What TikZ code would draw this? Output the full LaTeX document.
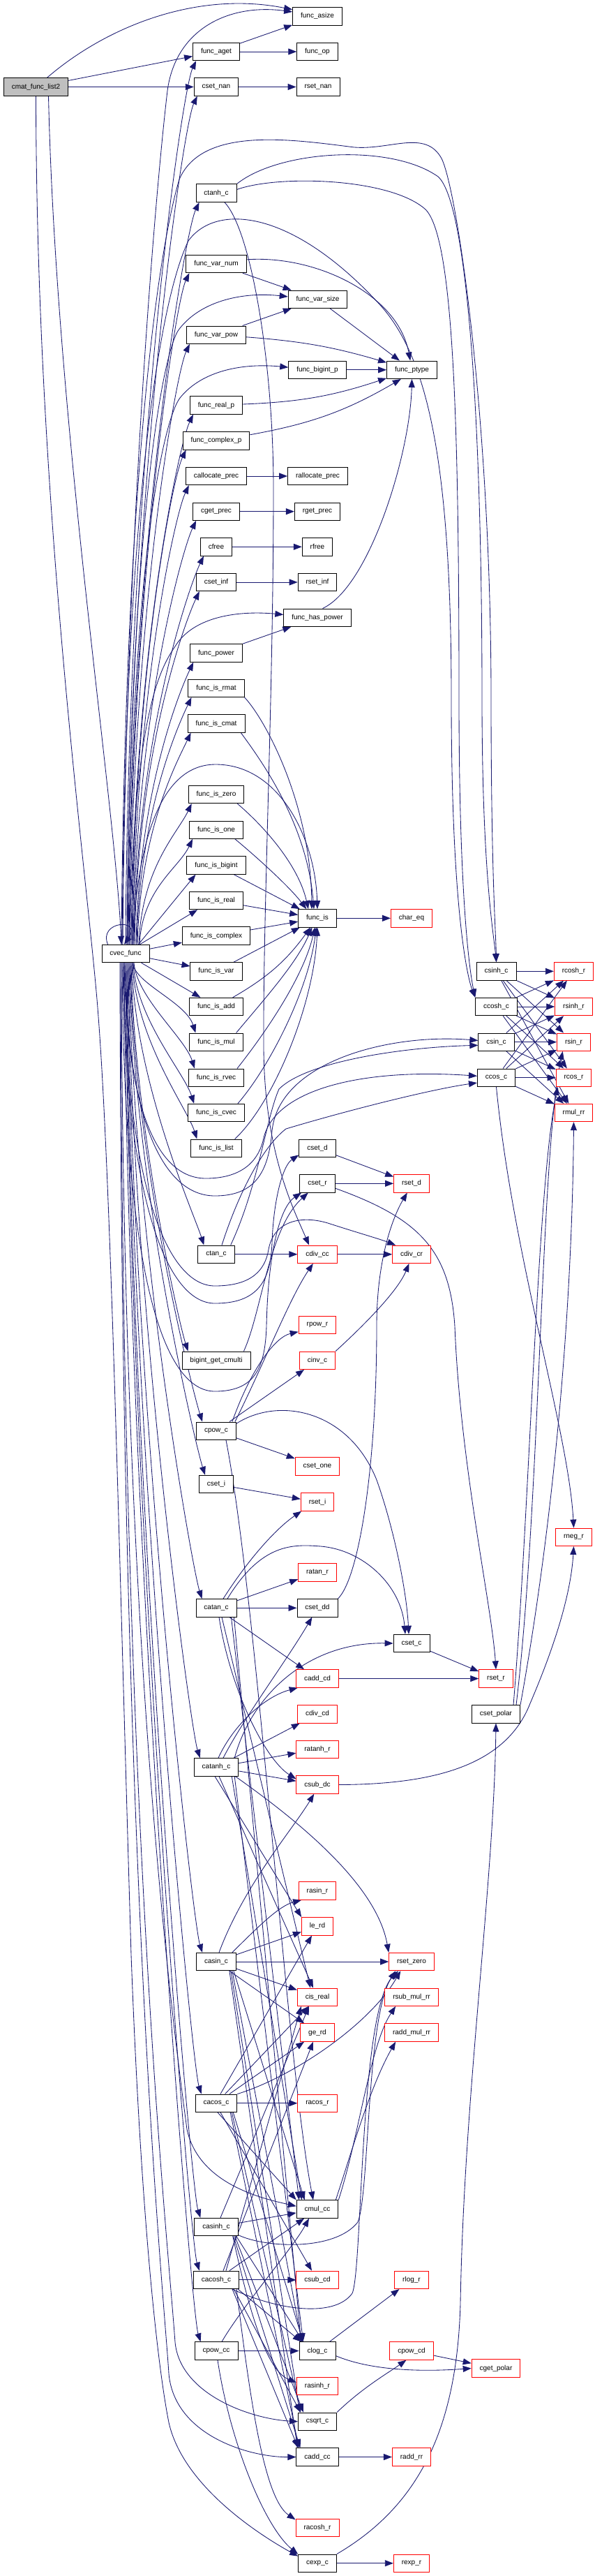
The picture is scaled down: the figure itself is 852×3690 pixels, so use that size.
\documentclass[tikz,border=0pt]{standalone}
\usepackage{fontspec}
\usetikzlibrary{arrows.meta,calc}
\newfontfamily\nf{Liberation Sans}
\definecolor{edgeblue}{HTML}{191970}
\definecolor{rootgrey}{HTML}{BFBFBF}
\definecolor{nodered}{HTML}{FF0000}
\pgfdeclarelayer{edgelayer}
\pgfsetlayers{edgelayer,main}
\tikzset{
  box/.style={draw=black, line width=0.9pt, fill=white, font=\nf\fontsize{10}{12}\selectfont, minimum height=25.5pt, inner xsep=11.5pt, inner ysep=0pt},
  rbox/.style={box, draw=nodered},
  rootbox/.style={box, fill=rootgrey},
  e/.style={draw=edgeblue, line width=0.85pt, -{Triangle[length=12pt,width=9pt]}},
}
\newcommand\upE[3]{\draw[e] ([xshift=#2pt]cvec.north) .. controls +(4,#3) and +(-20,-42) .. ([xshift=5pt]#1.south west);}
\newcommand\dnE[3]{\draw[e] ([xshift=#2pt]cvec.south) .. controls +(4,-#3) and +(-14,44) .. ([xshift=9pt]#1.north west);}
\begin{document}
\begin{tikzpicture}[x=1pt,y=1pt]
\useasboundingbox (0,0) rectangle (852,-3690);
% nodes
\node[rootbox] (cmat) at (51.5,-124.5) {cmat\_func\_list2};
\node[box] (fasize) at (455,-23.3) {func\_asize};
\node[box] (faget) at (310,-74) {func\_aget};
\node[box] (fop) at (455,-74) {func\_op};
\node[box] (csetnan) at (310,-124.5) {cset\_nan};
\node[box] (rsetnan) at (456,-124.5) {rset\_nan};
\node[box] (ctanh) at (310,-276.7) {ctanh\_c};
\node[box] (fvarnum) at (310,-378) {func\_var\_num};
\node[box] (fvarsize) at (455.5,-428.7) {func\_var\_size};
\node[box] (fvarpow) at (310,-479.7) {func\_var\_pow};
\node[box] (fbigintp) at (455,-529.8) {func\_bigint\_p};
\node[box] (fptype) at (590.5,-529.8) {func\_ptype};
\node[box] (frealp) at (310,-580.5) {func\_real\_p};
\node[box] (fcomplexp) at (310,-631.3) {func\_complex\_p};
\node[box] (calloc) at (310,-682) {callocate\_prec};
\node[box] (ralloc) at (455.5,-682) {rallocate\_prec};
\node[box] (cgetprec) at (310,-732.7) {cget\_prec};
\node[box] (rgetprec) at (455,-732.7) {rget\_prec};
\node[box] (cfree) at (310,-783.3) {cfree};
\node[box] (rfree) at (455,-783.3) {rfree};
\node[box] (csetinf) at (310,-834) {cset\_inf};
\node[box] (rsetinf) at (455,-834) {rset\_inf};
\node[box] (fhaspow) at (455,-884.7) {func\_has\_power};
\node[box] (fpower) at (310,-935.5) {func\_power};
\node[box] (fisrmat) at (310,-985.8) {func\_is\_rmat};
\node[box] (fiscmat) at (310,-1036.5) {func\_is\_cmat};
\node[box] (fiszero) at (310,-1138) {func\_is\_zero};
\node[box] (fisone) at (310,-1188.7) {func\_is\_one};
\node[box] (fisbigint) at (310,-1239.5) {func\_is\_bigint};
\node[box] (fisreal) at (310,-1290) {func\_is\_real};
\node[box] (fis) at (455,-1315.3) {func\_is};
\node[rbox] (chareq) at (590,-1315.3) {char\_eq};
\node[box] (fiscomplex) at (310,-1340.5) {func\_is\_complex};
\node[box] (cvec) at (180,-1366) {cvec\_func};
\node[box] (fisvar) at (310,-1391.3) {func\_is\_var};
\node[box] (csinh) at (711.5,-1391.3) {csinh\_c};
\node[rbox] (rcosh) at (822.5,-1391.3) {rcosh\_r};
\node[box] (fisadd) at (310,-1442) {func\_is\_add};
\node[box] (ccosh) at (711.5,-1442) {ccosh\_c};
\node[rbox] (rsinh) at (822.5,-1442) {rsinh\_r};
\node[box] (fismul) at (310,-1492.7) {func\_is\_mul};
\node[box] (csin) at (711.5,-1492.7) {csin\_c};
\node[rbox] (rsin) at (822.5,-1492.7) {rsin\_r};
\node[box] (fisrvec) at (310,-1543.7) {func\_is\_rvec};
\node[box] (ccos) at (711.5,-1543.7) {ccos\_c};
\node[rbox] (rcos) at (822.5,-1543.7) {rcos\_r};
\node[box] (fiscvec) at (310,-1594) {func\_is\_cvec};
\node[rbox] (rmul) at (822.5,-1594) {rmul\_rr};
\node[box] (fislist) at (310,-1644.7) {func\_is\_list};
\node[box] (csetd) at (455,-1644.7) {cset\_d};
\node[box] (csetr) at (455,-1695.3) {cset\_r};
\node[rbox] (rsetd) at (590,-1695.3) {rset\_d};
\node[box] (ctan) at (310,-1796.7) {ctan\_c};
\node[rbox] (cdivcc) at (455,-1796.7) {cdiv\_cc};
\node[rbox] (cdivcr) at (590,-1796.7) {cdiv\_cr};
\node[rbox] (rpow) at (455,-1897.8) {rpow\_r};
\node[box] (bigint) at (310,-1948.7) {bigint\_get\_cmulti};
\node[rbox] (cinv) at (455,-1948.7) {cinv\_c};
\node[box] (cpow) at (310,-2049.7) {cpow\_c};
\node[rbox] (csetone) at (455,-2100.5) {cset\_one};
\node[box] (cseti) at (310,-2126) {cset\_i};
\node[rbox] (rseti) at (455,-2151.5) {rset\_i};
\node[rbox] (rneg) at (822.5,-2201.8) {rneg\_r};
\node[rbox] (ratan) at (455,-2252.5) {ratan\_r};
\node[box] (catan) at (310,-2303.3) {catan\_c};
\node[box] (csetdd) at (455,-2303.3) {cset\_dd};
\node[box] (csetc) at (590,-2354) {cset\_c};
\node[rbox] (caddcd) at (455,-2404.5) {cadd\_cd};
\node[rbox] (rsetr) at (711,-2404.5) {rset\_r};
\node[box] (csetpolar) at (711,-2455.3) {cset\_polar};
\node[rbox] (cdivcd) at (455,-2455.3) {cdiv\_cd};
\node[rbox] (ratanh) at (455,-2505.8) {ratanh\_r};
\node[box] (catanh) at (310,-2531.3) {catanh\_c};
\node[rbox] (csubdc) at (455,-2556.5) {csub\_dc};
\node[rbox] (rasin) at (455,-2708.5) {rasin\_r};
\node[rbox] (lerd) at (455,-2759.3) {le\_rd};
\node[box] (casin) at (310,-2810) {casin\_c};
\node[rbox] (rsetzero) at (590,-2810) {rset\_zero};
\node[rbox] (cisreal) at (455,-2860.7) {cis\_real};
\node[rbox] (rsubmul) at (590,-2860.7) {rsub\_mul\_rr};
\node[rbox] (gerd) at (455,-2911.5) {ge\_rd};
\node[rbox] (raddmul) at (590,-2911.5) {radd\_mul\_rr};
\node[box] (cacos) at (310,-3012.7) {cacos\_c};
\node[rbox] (racos) at (455,-3012.7) {racos\_r};
\node[box] (cmulcc) at (455,-3164.5) {cmul\_cc};
\node[box] (casinh) at (310,-3190) {casinh\_c};
\node[box] (cacosh) at (310,-3265.8) {cacosh\_c};
\node[rbox] (csubcd) at (455,-3265.8) {csub\_cd};
\node[rbox] (rlog) at (590,-3265.8) {rlog\_r};
\node[box] (cpowcc) at (310,-3367.5) {cpow\_cc};
\node[box] (clog) at (455,-3367.5) {clog\_c};
\node[rbox] (cpowcd) at (590,-3367.5) {cpow\_cd};
\node[rbox] (cgetpolar) at (711,-3392.5) {cget\_polar};
\node[rbox] (rasinh) at (455,-3418) {rasinh\_r};
\node[box] (csqrt) at (455,-3468.7) {csqrt\_c};
\node[box] (caddcc) at (455,-3519.5) {cadd\_cc};
\node[rbox] (raddrr) at (590,-3519.5) {radd\_rr};
\node[rbox] (racosh) at (455,-3620.7) {racosh\_r};
\node[box] (cexp) at (455,-3671.7) {cexp\_c};
\node[rbox] (rexp) at (590,-3671.7) {rexp\_r};

\begin{pgfonlayer}{edgelayer}
\fill[white] (0,0) rectangle (852,-3690);
% ---- cmat
\draw[e] ([xshift=16pt]cmat.north) .. controls (150,-40) and (280,14) .. (fasize.165);
\draw[e] (cmat) -- (faget);
\draw[e] (cmat) -- (csetnan);
\draw[e] ([xshift=18pt]cmat.south) .. controls (80,-600) and (165,-1150) .. ([xshift=-6pt]cvec.north);
\draw[e] (cmat.south) .. controls (52,-700) and (118,-1200) .. (138,-1420) .. controls (158,-1640) and (170,-2200) .. (188,-2800) .. controls (203,-3200) and (228,-3400) .. (242,-3470) .. controls (262,-3560) and (370,-3630) .. (cexp.160);
% ---- top
\draw[e] (faget) -- (fasize);
\draw[e] (faget) -- (fop);
\draw[e] (csetnan) -- (rsetnan);
\draw[e] (fvarnum) -- (fvarsize);
\draw[e] (fvarnum.8) .. controls (450,-365) and (570,-420) .. (fptype.100);
\draw[e] (fvarsize) -- (fptype);
\draw[e] (fvarpow) -- (fvarsize);
\draw[e] (fvarpow) to[bend left=6] (fptype);
\draw[e] (fbigintp) -- (fptype);
\draw[e] (frealp) to[bend right=8] (fptype);
\draw[e] (fcomplexp.10) to[bend right=10] (fptype.-140);
\draw[e] (calloc) -- (ralloc);
\draw[e] (cgetprec) -- (rgetprec);
\draw[e] (cfree) -- (rfree);
\draw[e] (csetinf) -- (rsetinf);
\draw[e] (fhaspow.60) .. controls (530,-840) and (588,-650) .. (fptype.south);
\draw[e] (fpower) -- (fhaspow);
% ---- cvec upward
\draw[e] ([xshift=9pt]cvec.north west) .. controls +(-14,34) and +(26,38) .. ([xshift=-2pt]cvec.north);
\upE{faget}{0}{700}
\upE{csetnan}{2}{660}
\upE{ctanh}{4}{580}
\upE{fvarnum}{5}{520}
\upE{fvarpow}{6}{470}
\upE{frealp}{8}{420}
\upE{fcomplexp}{9}{390}
\upE{calloc}{10}{360}
\upE{cgetprec}{11}{330}
\upE{cfree}{12}{300}
\upE{csetinf}{13}{280}
\upE{fpower}{15}{220}
\upE{fisrmat}{16}{190}
\upE{fiscmat}{17}{165}
\upE{fiszero}{19}{110}
\upE{fisone}{20}{80}
\draw[e] ([xshift=-16pt]cvec.north east) -- ([xshift=13pt]fisbigint.south west);
\draw[e] ([xshift=-14pt]cvec.north east) -- ([xshift=12pt]fisreal.south west);
\draw[e] (cvec) -- (fiscomplex);
\draw[e] (cvec) -- (fisvar);
\draw[e] (cvec) -- (fisadd);
\dnE{fismul}{10}{30}
\dnE{fisrvec}{12}{50}
\dnE{fiscvec}{11}{80}
\dnE{fislist}{10}{110}
\dnE{ctan}{9}{170}
\dnE{bigint}{8}{230}
\dnE{cpow}{7}{280}
\dnE{cseti}{6}{310}
\dnE{catan}{5}{380}
\dnE{catanh}{4}{470}
\dnE{casin}{3}{580}
\dnE{cacos}{2}{650}
\dnE{casinh}{1}{720}
\dnE{cacosh}{0}{750}
\dnE{cpowcc}{-2}{790}
% cvec to far nodes
\draw[e] ([xshift=-4pt]cvec.north) .. controls (180,-800) and (220,-300) .. (240,-130) .. controls (252,-40) and (330,-5) .. (fasize.170);
\draw[e] ([xshift=2pt]cvec.north) .. controls (185,-800) and (230,-500) .. (258,-470) .. controls (290,-430) and (350,-418) .. (fvarsize.175);
\draw[e] ([xshift=3pt]cvec.north) .. controls (188,-800) and (235,-600) .. (258,-570) .. controls (290,-530) and (350,-520) .. (fbigintp.175);
\draw[e] ([xshift=6pt]cvec.north) .. controls (192,-1000) and (235,-950) .. (255,-920) .. controls (285,-880) and (350,-875) .. (fhaspow.175);
\draw[e] ([xshift=10pt]cvec.north) .. controls (195,-1250) and (215,-1095) .. (309,-1095) .. controls (400,-1095) and (452,-1200) .. (fis.north);
\draw[e] ([xshift=-6pt]cvec.north) .. controls (178,-800) and (215,-400) .. (257,-257) .. controls (290,-180) and (420,-200) .. (508,-211) .. controls (560,-215) and (610,-185) .. (633,-227) .. controls (655,-270) and (704,-600) .. (704,-1000) .. controls (704,-1250) and (711,-1340) .. (csinh.north);
\draw[e] ([xshift=-5pt]cvec.north) .. controls (179,-800) and (220,-450) .. (270,-345) .. controls (310,-290) and (420,-300) .. (546,-438) .. controls (610,-510) and (647,-650) .. (647,-1000) .. controls (647,-1300) and (670,-1400) .. (ccosh.north west);
\draw[e] ([xshift=-2pt]cvec.south) .. controls (182,-1600) and (230,-1688) .. (295,-1688) .. controls (350,-1688) and (372,-1660) .. (378,-1630) .. controls (395,-1560) and (520,-1530) .. (ccos.175);
\draw[e] ([xshift=-1pt]cvec.south) .. controls (183,-1620) and (240,-1713) .. (308,-1713) .. controls (365,-1713) and (385,-1680) .. (390,-1620) .. controls (400,-1520) and (560,-1480) .. (csin.175);
\draw[e] ([xshift=-3pt]cvec.south) .. controls (181,-1700) and (240,-1842) .. (308,-1842) .. controls (360,-1842) and (380,-1820) .. (385,-1790) .. controls (392,-1750) and (430,-1740) .. (470,-1752) .. controls (510,-1765) and (545,-1775) .. (cdivcr.150);
\draw[e] ([xshift=-4pt]cvec.south) .. controls (180,-1720) and (240,-1867) .. (308,-1867) .. controls (365,-1867) and (388,-1840) .. (390,-1780) .. controls (392,-1720) and (405,-1670) .. (csetd.-160);
\draw[e] ([xshift=-5pt]cvec.south) .. controls (178,-1850) and (240,-1993) .. (308,-1993) .. controls (365,-1993) and (380,-1960) .. (382,-1900) .. controls (384,-1800) and (400,-1730) .. (csetr.-150);
\draw[e] ([xshift=-6pt]cvec.south) .. controls (176,-2400) and (255,-2950) .. (268,-3050) .. controls (285,-3130) and (380,-3150) .. (cmulcc.172);
\draw[e] ([xshift=-7pt]cvec.south) .. controls (175,-2600) and (240,-3200) .. (251,-3355) .. controls (258,-3430) and (360,-3465) .. (csqrt.west);
\draw[e] ([xshift=-8pt]cvec.south) .. controls (174,-2700) and (236,-3300) .. (242,-3400) .. controls (250,-3490) and (360,-3520) .. (caddcc.west);
% ---- func_is group
\draw[e] (fisrmat.south east) .. controls (380,-1030) and (445,-1150) .. ([xshift=-8pt]fis.north);
\draw[e] ([xshift=-6pt]fiscmat.south east) .. controls (375,-1090) and (440,-1180) .. ([xshift=-5pt]fis.north);
\draw[e] ([xshift=-10pt]fiszero.south east) .. controls (380,-1185) and (428,-1240) .. ([xshift=-13pt]fis.north);
\draw[e] ([xshift=-12pt]fisone.south east) .. controls (365,-1225) and (415,-1270) .. (fis.140);
\draw[e] (fisbigint) -- (fis);
\draw[e] (fisreal) -- (fis);
\draw[e] (fiscomplex) -- (fis);
\draw[e] (fisvar) -- (fis);
\draw[e] (fisadd) to[bend right=12] (fis);
\draw[e] ([xshift=-10pt]fismul.north east) .. controls (380,-1430) and (425,-1380) .. (fis.-120);
\draw[e] ([xshift=-10pt]fisrvec.north east) .. controls (380,-1480) and (435,-1400) .. (fis.-105);
\draw[e] ([xshift=-10pt]fiscvec.north east) .. controls (385,-1530) and (442,-1420) .. (fis.-97);
\draw[e] ([xshift=-10pt]fislist.north east) .. controls (392,-1580) and (450,-1440) .. (fis.-90);
\draw[e] (fis) -- (chareq);
% ---- hyperbolic / trig
\draw[e] (ctanh.north east) .. controls (400,-215) and (560,-205) .. (628,-253) .. controls (670,-290) and (691,-600) .. (691,-1000) .. controls (691,-1250) and (708,-1340) .. (csinh.north);
\draw[e] (ctanh.10) .. controls (400,-250) and (560,-255) .. (610,-300) .. controls (650,-340) and (658,-600) .. (658,-1000) .. controls (658,-1300) and (675,-1400) .. (ccosh.north west);
\draw[e] ([xshift=12pt]ctanh.south) .. controls (360,-330) and (392,-520) .. (392,-700) .. controls (392,-1000) and (377,-1300) .. (378,-1500) .. controls (379,-1650) and (420,-1730) .. ([xshift=-12pt]cdivcc.north);
\draw[e] ([xshift=8pt]ctan.north) .. controls (345,-1700) and (380,-1640) .. (410,-1617) .. controls (500,-1590) and (620,-1560) .. (ccos.195);
\draw[e] ([xshift=-6pt]ctan.north east) .. controls (370,-1700) and (382,-1600) .. (400,-1560) .. controls (440,-1520) and (580,-1500) .. (csin.190);
\foreach \s in {csinh,ccosh,csin,ccos} {
  \foreach \t in {rcosh,rsinh,rsin,rcos,rmul} {
    \draw[e] (\s) -- (\t);
  }
}
\draw[e] (ccos.south) .. controls (735,-1800) and (815,-2050) .. (rneg.north);
\draw[e] ([xshift=-10pt]csetpolar.north east) .. controls (760,-2150) and (770,-1700) .. (rcos.-150);
\draw[e] ([xshift=-6pt]csetpolar.north east) .. controls (775,-2150) and (775,-1650) .. (rsin.-140);
\draw[e] (csetpolar.north east) .. controls (790,-2200) and (820,-1900) .. (rmul.south);
\draw[e] (csubdc.east) .. controls (620,-2556) and (725,-2530) .. (760,-2440) .. controls (790,-2370) and (818,-2290) .. (rneg.south);
\draw[e] (cexp.north east) .. controls (600,-3590) and (655,-3480) .. (660,-3300) .. controls (665,-3000) and (708,-2700) .. (csetpolar.south);
% ---- middle
\draw[e] (csetd) -- (rsetd);
\draw[e] (csetr) -- (rsetd);
\draw[e] (csetr.-15) .. controls (600,-1745) and (645,-1790) .. (652,-1900) .. controls (660,-2100) and (705,-2300) .. (rsetr.north);
\draw[e] (ctan) -- (cdivcc);
\draw[e] (cdivcc) -- (cdivcr);
\draw[e] (cinv.north east) .. controls (520,-1900) and (570,-1850) .. (cdivcr.-105);
\draw[e] ([xshift=-10pt]bigint.north east) .. controls (375,-1880) and (385,-1760) .. (csetr.-135);
\draw[e] ([xshift=-6pt]cpow.north east) .. controls (360,-1960) and (395,-1915) .. (rpow.200);
\draw[e] (cpow) -- (cinv);
\draw[e] (cpow) -- (csetone);
\draw[e] (cpow.20) .. controls (400,-2000) and (500,-2020) .. (540,-2120) .. controls (565,-2190) and (583,-2280) .. ([xshift=-4pt]csetc.north);
\draw[e] ([xshift=-2pt]cpow.north east) .. controls (380,-1950) and (415,-1860) .. (cdivcc.-115);
\draw[e] ([xshift=14pt]cpow.south) .. controls (370,-2300) and (410,-2950) .. ([xshift=-6pt]cmulcc.north);
\draw[e] (cseti) -- (rseti);
% ---- catan
\draw[e] (catan) -- (ratan);
\draw[e] (catan) -- (csetdd);
\draw[e] (catan) -- (caddcd);
\draw[e] ([xshift=10pt]catan.north) .. controls (355,-2235) and (395,-2190) .. (rseti.-150);
\draw[e] ([xshift=16pt]catan.north) .. controls (375,-2210) and (420,-2212) .. (460,-2215) .. controls (520,-2220) and (575,-2270) .. ([xshift=-9pt]csetc.north);
\draw[e] ([xshift=4pt]catan.south) .. controls (330,-2420) and (380,-2520) .. (csubdc.165);
\draw[e] ([xshift=8pt]catan.south) -- ([xshift=-10pt]cisreal.north);
\draw[e] ([xshift=-4pt]catan.south east) -- ([xshift=3pt]clog.north west);
\draw[e] ([xshift=-8pt]catan.south east) -- ([xshift=4pt]cmulcc.north west);
\draw[e] (csetdd.north east) .. controls (515,-2260) and (540,-2100) .. (540,-1900) .. controls (540,-1800) and (565,-1740) .. (rsetd.-115);
\draw[e] (csetc) -- (rsetr);
\draw[e] (caddcd) -- (rsetr);
% ---- catanh
\draw[e] (catanh) -- (ratanh);
\draw[e] (catanh) -- (csubdc);
\draw[e] (catanh) -- (cdivcd);
\draw[e] ([xshift=10pt]catanh.north) .. controls (350,-2460) and (410,-2380) .. (csetdd.-120);
\draw[e] ([xshift=3pt]catanh.north) .. controls (335,-2470) and (380,-2430) .. (caddcd.205);
\draw[e] ([xshift=-6pt]catanh.north east) .. controls (360,-2430) and (440,-2352) .. (csetc.west);
\draw[e] ([xshift=-2pt]catanh.south) -- (lerd.150);
\draw[e] ([xshift=-5pt]catanh.south east) .. controls (430,-2610) and (540,-2700) .. (rsetzero.north west);
\draw[e] ([xshift=4pt]catanh.south) -- ([xshift=-6pt]cisreal.north);
\draw[e] ([xshift=-6pt]catanh.south east) -- ([xshift=6pt]clog.north west);
\draw[e] ([xshift=-10pt]catanh.south east) -- ([xshift=8pt]cmulcc.north west);
% ---- casin
\draw[e] ([xshift=-6pt]casin.north east) .. controls (370,-2760) and (400,-2730) .. (rasin.-150);
\draw[e] (casin) -- (lerd);
\draw[e] (casin) -- (rsetzero);
\draw[e] (casin) -- (cisreal);
\draw[e] (casin) -- (gerd);
\draw[e] ([xshift=4pt]casin.north) .. controls (350,-2700) and (420,-2620) .. (csubdc.-110);
\draw[e] ([xshift=-4pt]casin.south east) -- ([xshift=12pt]cmulcc.north west);
\draw[e] ([xshift=-8pt]casin.south east) -- ([xshift=3pt]csqrt.north west);
\draw[e] ([xshift=-10pt]casin.south east) -- ([xshift=2pt]caddcc.north west);
\draw[e] ([xshift=-6pt]casin.south east) -- ([xshift=4pt]clog.north west);
% ---- cacos
\draw[e] (cacos) -- (racos);
\draw[e] ([xshift=6pt]cacos.north) -- ([xshift=-8pt]lerd.south);
\draw[e] (cacos) -- (cisreal);
\draw[e] (cacos) -- (gerd);
\draw[e] (cacos.north east) .. controls (420,-2975) and (530,-2900) .. (rsetzero.-140);
\draw[e] ([xshift=6pt]cacos.south) -- ([xshift=-8pt]csubcd.north);
\draw[e] ([xshift=2pt]cacos.south) -- (cmulcc.north west);
\draw[e] ([xshift=-8pt]cacos.south east) -- ([xshift=4pt]csqrt.north west);
\draw[e] ([xshift=-10pt]cacos.south east) -- ([xshift=4pt]caddcc.north west);
\draw[e] ([xshift=-6pt]cacos.south east) -- ([xshift=6pt]clog.north west);
% ---- casinh
\draw[e] ([xshift=-8pt]casinh.south east) .. controls (355,-3300) and (380,-3395) .. (rasinh.170);
\draw[e] (casinh) -- (cmulcc);
\draw[e] ([xshift=6pt]casinh.north) -- ([xshift=-12pt]cisreal.south);
\draw[e] (casinh.-20) .. controls (380,-3220) and (480,-3225) .. (513,-3183) .. controls (530,-3140) and (525,-2890) .. (rsetzero.-150);
\draw[e] ([xshift=-5pt]casinh.south east) -- ([xshift=8pt]csqrt.north west);
\draw[e] ([xshift=-7pt]casinh.south east) -- ([xshift=6pt]caddcc.north west);
\draw[e] ([xshift=-3pt]casinh.south east) -- ([xshift=6pt]clog.north west);
% ---- cacosh
\draw[e] (cacosh) -- (csubcd);
\draw[e] (cacosh) -- (cmulcc);
\draw[e] ([xshift=10pt]cacosh.north) -- ([xshift=-6pt]gerd.south);
\draw[e] ([xshift=14pt]cacosh.north) -- ([xshift=6pt]cisreal.south west);
\draw[e] ([xshift=-4pt]cacosh.south east) .. controls (360,-3450) and (380,-3580) .. (racosh.160);
\draw[e] ([xshift=-8pt]cacosh.south east) -- ([xshift=4pt]csqrt.north west);
\draw[e] ([xshift=-10pt]cacosh.south east) -- ([xshift=3pt]caddcc.north west);
\draw[e] ([xshift=-2pt]cacosh.south east) -- ([xshift=3pt]clog.north west);
\draw[e] (cacosh.-30) .. controls (400,-3310) and (480,-3320) .. (505,-3285) .. controls (520,-3250) and (515,-2880) .. (rsetzero.-145);
% ---- bottom
\draw[e] (cpowcc) -- (clog);
\draw[e] ([xshift=8pt]cpowcc.north) .. controls (350,-3300) and (420,-3220) .. ([xshift=-12pt]cmulcc.south);
\draw[e] ([xshift=2pt]cpowcc.south) .. controls (330,-3500) and (380,-3620) .. (cexp.155);
\draw[e] (clog) -- (rlog);
\draw[e] (clog.-15) .. controls (530,-3395) and (600,-3398) .. (cgetpolar.west);
\draw[e] (cpowcd) -- (cgetpolar);
\draw[e] (csqrt.north east) .. controls (520,-3420) and (555,-3400) .. (cpowcd.-120);
\draw[e] (caddcc) -- (raddrr);
\draw[e] (cexp) -- (rexp);
\draw[e] (cmulcc.north east) .. controls (515,-3060) and (530,-2930) .. (rsubmul.-150);
\draw[e] ([xshift=-4pt]cmulcc.north east) .. controls (505,-3080) and (530,-2990) .. (raddmul.-150);
\end{pgfonlayer}
\end{tikzpicture}
\end{document}
